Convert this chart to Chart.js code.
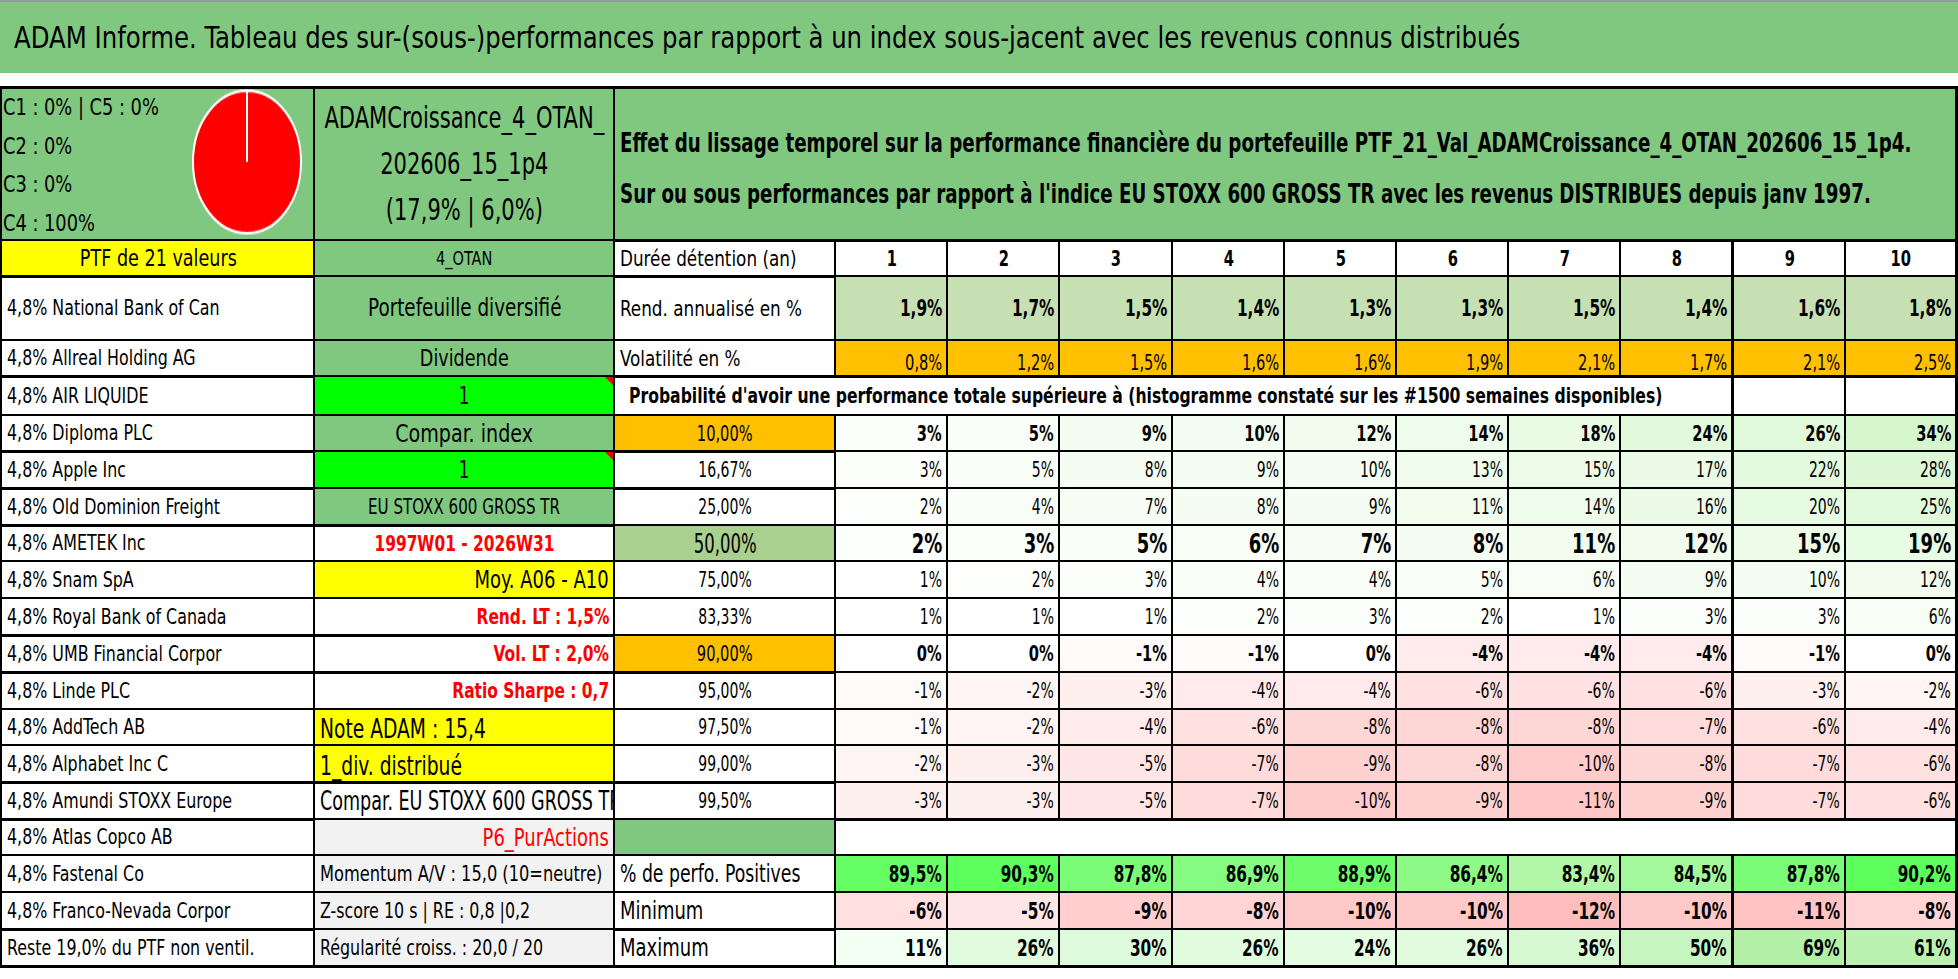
<!DOCTYPE html>
<html lang="fr">
<head>
<meta charset="utf-8">
<title>ADAM Informe</title>
<script src="https://cdn.jsdelivr.net/npm/chart.js@4.4.1/dist/chart.umd.min.js"></script>
<style>
  html, body { margin: 0; padding: 0; background: #fff; }
  body { width: 1958px; height: 979px; position: relative; overflow: hidden;
         font-family: 'DejaVu Sans Condensed', 'DejaVu Sans', sans-serif; color: #000; }
  #title { position: absolute; left: 0; top: 0; width: 1958px; height: 73px; background: #80C880;
           border-top: 2px solid #9a9a9a; box-sizing: border-box; font-size: 31px; line-height: 71px; padding-left: 14px; white-space: nowrap; }
  .c { position: absolute; box-sizing: border-box; display: flex; align-items: center; overflow: hidden;
       white-space: nowrap; border-right: 2px solid #000; border-bottom: 2px solid #000; padding: 0 4px 0 5px; font-size: 20px; }
  .t { display: inline-block; }
  .tri { position: absolute; width: 0; height: 0; border-top: 8px solid #e00; border-left: 8px solid transparent; }
  #pieBox { position: absolute; left: 191px; top: 88px; width: 112px; height: 112px; transform-origin: 0 0; transform: scaleY(1.32); }
</style>
</head>
<body>
<div id="title"><span class="t" style="transform:scaleX(0.875);transform-origin:0 50%">ADAM Informe. Tableau des sur-(sous-)performances par rapport à un index sous-jacent avec les revenus connus distribués</span></div>
<div id="grid"></div>
<div id="pieBox"><canvas id="pie" width="112" height="112"></canvas></div>
<script>
// répartition par classe (camembert)
const classLabels = ['C1', 'C2', 'C3', 'C4', 'C5'];
const classValues = [0, 0, 0, 100, 0];

// durées de détention (an)
const years = [1, 2, 3, 4, 5, 6, 7, 8, 9, 10];
const rendAnnualise = [1.9, 1.7, 1.5, 1.4, 1.3, 1.3, 1.5, 1.4, 1.6, 1.8];
const volatilite = [0.8, 1.2, 1.5, 1.6, 1.6, 1.9, 2.1, 1.7, 2.1, 2.5];

// probabilités (quantiles) et sur/sous-performances
const quantiles = ['10,00%', '16,67%', '25,00%', '50,00%', '75,00%', '83,33%', '90,00%', '95,00%', '97,50%', '99,00%', '99,50%'];
const perfQ10 = [3, 5, 9, 10, 12, 14, 18, 24, 26, 34];
const perfQ1667 = [3, 5, 8, 9, 10, 13, 15, 17, 22, 28];
const perfQ25 = [2, 4, 7, 8, 9, 11, 14, 16, 20, 25];
const perfQ50 = [2, 3, 5, 6, 7, 8, 11, 12, 15, 19];
const perfQ75 = [1, 2, 3, 4, 4, 5, 6, 9, 10, 12];
const perfQ8333 = [1, 1, 1, 2, 3, 2, 1, 3, 3, 6];
const perfQ90 = [0, 0, -1, -1, 0, -4, -4, -4, -1, 0];
const perfQ95 = [-1, -2, -3, -4, -4, -6, -6, -6, -3, -2];
const perfQ975 = [-1, -2, -4, -6, -8, -8, -8, -7, -6, -4];
const perfQ99 = [-2, -3, -5, -7, -9, -8, -10, -8, -7, -6];
const perfQ995 = [-3, -3, -5, -7, -10, -9, -11, -9, -7, -6];

const pctPositives = [89.5, 90.3, 87.8, 86.9, 88.9, 86.4, 83.4, 84.5, 87.8, 90.2];
const minimum = [-6, -5, -9, -8, -10, -10, -12, -10, -11, -8];
const maximum = [11, 26, 30, 26, 24, 26, 36, 50, 69, 61];

// composition du portefeuille
const holdings = ['4,8% National Bank of Can', '4,8% Allreal Holding AG', '4,8% AIR LIQUIDE', '4,8% Diploma PLC',
  '4,8% Apple Inc', '4,8% Old Dominion Freight', '4,8% AMETEK Inc', '4,8% Snam SpA', '4,8% Royal Bank of Canada',
  '4,8% UMB Financial Corpor', '4,8% Linde PLC', '4,8% AddTech AB', '4,8% Alphabet Inc C', '4,8% Amundi STOXX Europe',
  '4,8% Atlas Copco AB', '4,8% Fastenal Co', '4,8% Franco-Nevada Corpor', 'Reste 19,0% du PTF non ventil.'];

// infos colonne B (lignes 2 à 19)
const infos = ['4_OTAN', 'Portefeuille diversifié', 'Dividende', '1', 'Compar. index', '1', 'EU STOXX 600 GROSS TR',
  '1997W01 - 2026W31', 'Moy. A06 - A10', 'Rend. LT : 1,5%', 'Vol. LT : 2,0%', 'Ratio Sharpe : 0,7', 'Note ADAM : 15,4',
  '1_div. distribué', 'Compar. EU STOXX 600 GROSS TR', 'P6_PurActions', 'Momentum A/V : 15,0 (10=neutre)',
  'Z-score 10 s | RE : 0,8 |0,2', 'Régularité croiss. : 20,0 / 20'];

const ptfName = ['ADAMCroissance_4_OTAN_', '202606_15_1p4', '(17,9% | 6,0%)'];
const headLines = ["Effet du lissage temporel sur la performance financière du portefeuille PTF_21_Val_ADAMCroissance_4_OTAN_202606_15_1p4.",
  "Sur ou sous performances par rapport à l'indice EU STOXX 600 GROSS TR avec les revenus DISTRIBUES depuis janv 1997."];

// ---- mise en page de la grille ----
const colX = [0, 315, 615, 836];
for (let i = 1; i <= 10; i++) colX.push(Math.round(836 + i * 112.2));
const rowY = [86, 241, 277, 341, 377, 416, 452, 489, 526, 562, 599, 636, 673, 710, 746, 783, 820, 856, 893, 930, 967];
const thickRows = [0, 1, 3, 5, 6, 7, 10, 11, 14, 15, 18, 19];
const NUM = 0.74;   // compression horizontale des nombres
const TXT = 0.85;   // compression horizontale des textes

const grid = document.getElementById('grid');

function cell(r, c0, c1, html, st) {
  st = st || {};
  const d = document.createElement('div');
  d.className = 'c';
  d.style.left = colX[c0] + 'px';
  d.style.top = rowY[r] + 'px';
  d.style.width = (colX[c1 + 1] - colX[c0]) + 'px';
  d.style.height = (rowY[r + 1] - rowY[r] + (thickRows.includes(r) ? 1 : 0)) + 'px';
  d.style.borderBottomWidth = thickRows.includes(r) ? '3px' : '2px';
  if (c0 === 0) d.style.borderLeft = '2px solid #000';
  if (r === 0) d.style.borderTop = '3px solid #000';
  if (c1 === 12 || c1 === 10) d.style.borderRightWidth = '3px';
  const al = st.align || 'left';
  d.style.justifyContent = al === 'right' ? 'flex-end' : al === 'center' ? 'center' : 'flex-start';
  if (st.bg) d.style.background = st.bg;
  if (st.color) d.style.color = st.color;
  if (st.size) d.style.fontSize = st.size + 'px';
  if (st.bold) d.style.fontWeight = 'bold';
  if (st.valign === 'bottom') { d.style.alignItems = 'flex-end'; d.style.paddingBottom = '0px'; }
  if (html !== '') {
    const origin = al === 'right' ? '100% 50%' : al === 'center' ? '50% 50%' : '0 50%';
    d.innerHTML = '<span class="t" style="text-align:' + al + ';transform:scaleX(' + (st.sx || TXT) +
      ');transform-origin:' + origin + '">' + html + '</span>';
  }
  grid.appendChild(d);
  return d;
}

const GREEN = '#80C880';
const pct1 = v => v.toFixed(1).replace('.', ',') + '%';
const pct0 = v => v + '%';

function mix(a, b, t) {
  t = Math.max(0, Math.min(1, t));
  const pa = [1, 3, 5].map(i => parseInt(a.substr(i, 2), 16));
  const pb = [1, 3, 5].map(i => parseInt(b.substr(i, 2), 16));
  return 'rgb(' + pa.map((x, i) => Math.round(x + (pb[i] - x) * t)).join(',') + ')';
}
function gridColor(v) {
  return v >= 0 ? mix('#FFFFFF', '#D6F7CE', v / 34) : mix('#FFFFFF', '#FFC2C2', -v / 12);
}

// en-tête
cell(0, 0, 0, '', { bg: GREEN });
const cl = document.createElement('div');
cl.style.cssText = 'position:absolute;left:3px;top:88px;font-size:23px;line-height:38.5px;transform:scaleX(0.86);transform-origin:0 0;white-space:nowrap;';
cl.innerHTML = 'C1 : ' + classValues[0] + '% | C5 : ' + classValues[4] + '%<br>C2 : ' + classValues[1] +
  '%<br>C3 : ' + classValues[2] + '%<br>C4 : ' + classValues[3] + '%';
document.body.appendChild(cl);
const hb = cell(0, 1, 1, ptfName.join('<br>'), { bg: GREEN, align: 'center', size: 30, sx: 0.78 });
hb.style.lineHeight = '46px'; hb.style.paddingBottom = '1px';
const hd = cell(0, 2, 12, headLines.join('<br>'), { bg: GREEN, size: 26, bold: true, sx: 0.78 });
hd.style.lineHeight = '51px'; hd.style.paddingTop = '10px';

// ligne durée
cell(1, 0, 0, 'PTF de 21 valeurs', { bg: '#FFFF00', align: 'center', size: 23 });
cell(1, 1, 1, infos[0], { bg: GREEN, align: 'center', size: 19 });
cell(1, 2, 2, 'Durée détention (an)', { size: 22 });
years.forEach((y, i) => cell(1, 3 + i, 3 + i, y, { align: 'center', bold: true, size: 22, sx: NUM }));

// colonnes A et B
const bStyles = [
  { bg: GREEN, align: 'center', size: 24 },
  { bg: GREEN, align: 'center', size: 23 },
  { bg: '#00FF00', align: 'center', size: 25, sx: NUM },
  { bg: GREEN, align: 'center', size: 25 },
  { bg: '#00FF00', align: 'center', size: 25, sx: NUM },
  { bg: GREEN, align: 'center', size: 21, sx: 0.8 },
  { color: '#FF0000', align: 'center', size: 22, bold: true, sx: 0.78 },
  { bg: '#FFFF00', align: 'right', size: 25, sx: 0.8 },
  { color: '#FF0000', align: 'right', size: 22, bold: true, sx: 0.78 },
  { color: '#FF0000', align: 'right', size: 22, bold: true, sx: 0.78 },
  { color: '#FF0000', align: 'right', size: 22, bold: true, sx: 0.78 },
  { bg: '#FFFF00', size: 26, valign: 'bottom', sx: 0.8 },
  { bg: '#FFFF00', size: 26, valign: 'bottom', sx: 0.8 },
  { size: 26, sx: 0.75 },
  { bg: '#F2F2F2', color: '#FF0000', align: 'right', size: 25, sx: 0.8 },
  { bg: '#F2F2F2', size: 22, sx: 0.82 },
  { bg: '#F2F2F2', size: 21, sx: 0.84 },
  { bg: '#F2F2F2', size: 21, sx: 0.84 }
];
holdings.forEach((h, i) => {
  cell(2 + i, 0, 0, h, { size: 21, sx: 0.84 });
  cell(2 + i, 1, 1, infos[i + 1], bStyles[i]);
  if (infos[i + 1] === '1') {
    const t = document.createElement('div');
    t.className = 'tri';
    t.style.left = (colX[2] - 10) + 'px';
    t.style.top = rowY[2 + i] + 'px';
    document.body.appendChild(t);
  }
});

// rendement et volatilité
cell(2, 2, 2, 'Rend. annualisé en %', { size: 22 });
rendAnnualise.forEach((v, i) => cell(2, 3 + i, 3 + i, pct1(v), { bg: '#C6E0B4', align: 'right', bold: true, size: 23, sx: NUM }));
cell(3, 2, 2, 'Volatilité en %', { size: 22 });
volatilite.forEach((v, i) => cell(3, 3 + i, 3 + i, pct1(v), { bg: '#FFC000', align: 'right', size: 22, valign: 'bottom', sx: NUM }));

// probabilités
const pr = cell(4, 2, 10, "Probabilité d'avoir une performance totale supérieure à (histogramme constaté sur les #1500 semaines disponibles)", { size: 22, bold: true, sx: 0.79 });
pr.style.paddingLeft = '14px';
cell(4, 11, 11, '', {});
cell(4, 12, 12, '', {});

const perfRows = [perfQ10, perfQ1667, perfQ25, perfQ50, perfQ75, perfQ8333, perfQ90, perfQ95, perfQ975, perfQ99, perfQ995];
const qStyle = { 0: { bg: '#FFC000', size: 22 }, 3: { bg: '#A9D08E', size: 27, sx: 0.68 }, 6: { bg: '#FFC000', size: 22 } };
perfRows.forEach((row, k) => {
  const r = 5 + k;
  const qs = qStyle[k] || { size: 21 };
  cell(r, 2, 2, quantiles[k], Object.assign({ align: 'center', sx: NUM }, qs));
  const strong = k === 0 || k === 3 || k === 6;
  row.forEach((v, i) => cell(r, 3 + i, 3 + i, pct0(v), {
    bg: gridColor(v), align: 'right', bold: strong, size: k === 3 ? 27 : strong ? 22 : 21, sx: NUM
  }));
});

// ligne vide
cell(16, 2, 2, '', { bg: GREEN });
cell(16, 3, 12, '', {});

// statistiques
cell(17, 2, 2, '% de perfo. Positives', { size: 24, sx: 0.8 });
pctPositives.forEach((v, i) => cell(17, 3 + i, 3 + i, pct1(v), {
  bg: mix('#B2F7A8', '#5CFF5C', (v - 83.4) / 6.9), align: 'right', bold: true, size: 23, sx: NUM
}));
cell(18, 2, 2, 'Minimum', { size: 25, sx: 0.8 });
minimum.forEach((v, i) => cell(18, 3 + i, 3 + i, pct0(v), {
  bg: mix('#FFE6E6', '#FFBDBD', (-v - 5) / 7), align: 'right', bold: true, size: 23, sx: NUM
}));
cell(19, 2, 2, 'Maximum', { size: 25, sx: 0.8 });
maximum.forEach((v, i) => cell(19, 3 + i, 3 + i, pct0(v), {
  bg: mix('#F2FFF2', '#B2F0A8', (v - 11) / 58), align: 'right', bold: true, size: 23, sx: NUM
}));

// ---- camembert ----
const radialLine = {
  id: 'radialLine',
  afterDatasetsDraw(chart) {
    const arc = chart.getDatasetMeta(0).data[classValues.indexOf(Math.max(...classValues))];
    const p = arc.getProps(['x', 'y', 'startAngle', 'outerRadius']);
    const c = chart.ctx;
    c.save();
    c.strokeStyle = '#fff';
    c.lineWidth = 2;
    c.beginPath();
    c.moveTo(p.x, p.y);
    c.lineTo(p.x + Math.cos(p.startAngle) * p.outerRadius, p.y + Math.sin(p.startAngle) * p.outerRadius);
    c.stroke();
    c.restore();
  }
};

new Chart(document.getElementById('pie').getContext('2d'), {
  type: 'pie',
  data: {
    labels: classLabels,
    datasets: [{
      data: classValues,
      backgroundColor: ['#4472C4', '#ED7D31', '#A5A5A5', '#FF0000', '#FFC000'],
      borderColor: '#FFFFFF',
      borderWidth: 2
    }]
  },
  options: {
    responsive: false,
    animation: false,
    layout: { padding: 1 },
    plugins: { legend: { display: false }, tooltip: { enabled: false } }
  },
  plugins: [radialLine]
});
</script>
</body>
</html>
